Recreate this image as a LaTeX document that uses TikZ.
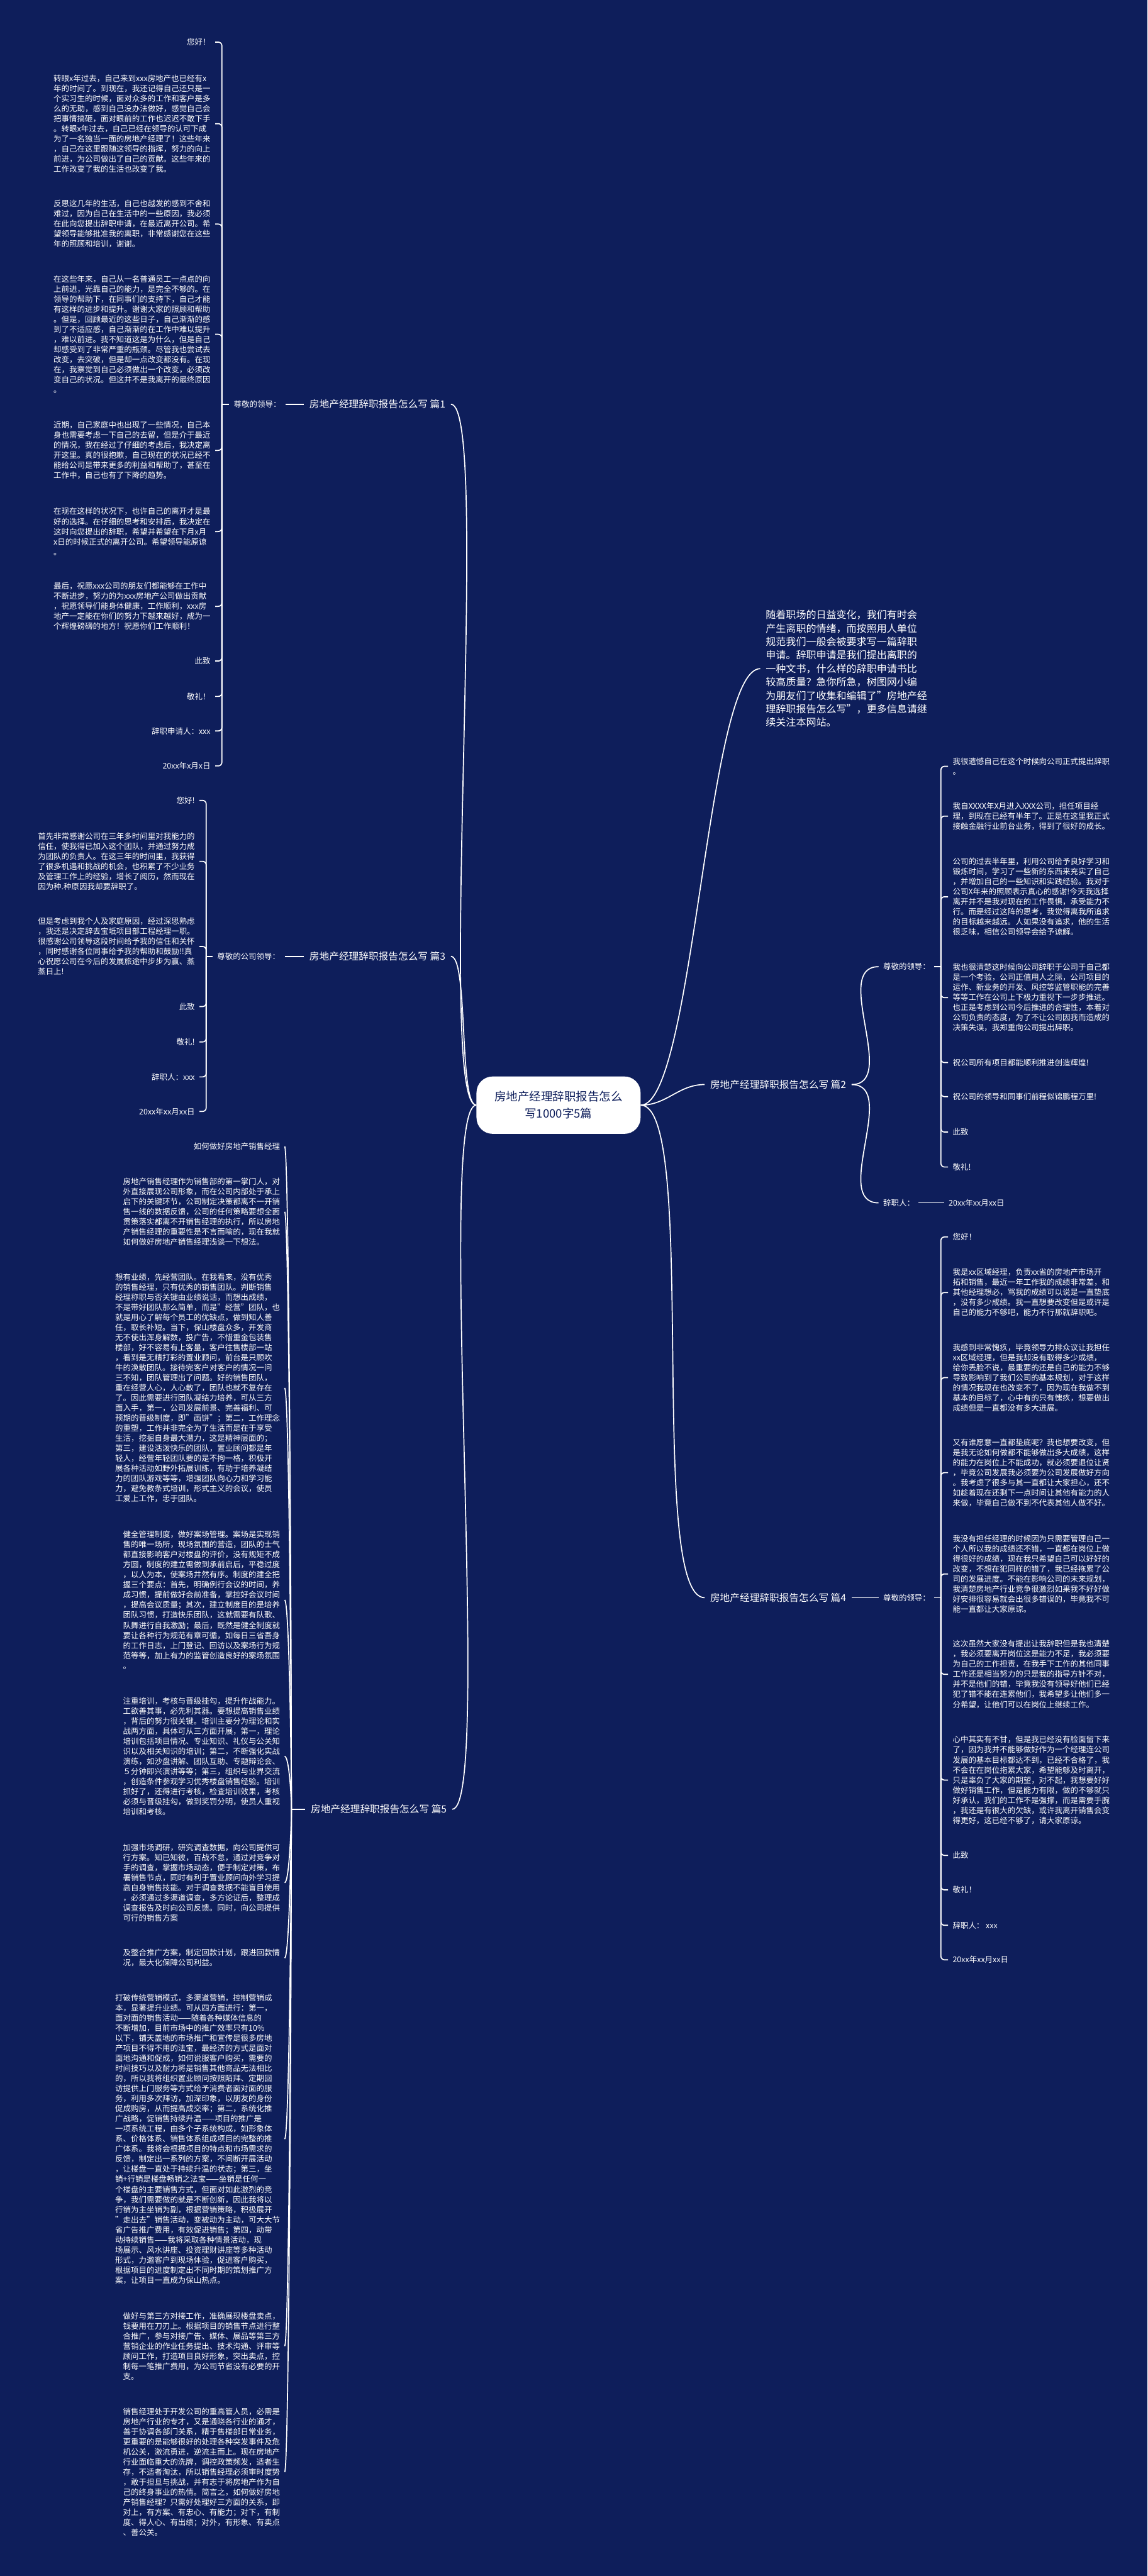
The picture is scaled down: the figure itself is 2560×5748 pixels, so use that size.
\documentclass[tikz,border=0pt]{standalone}
\usepackage{fontspec}
\setmainfont{Noto Sans CJK SC}
\usetikzlibrary{positioning,calc}

\definecolor{bgnavy}{HTML}{0E1E5B}

\newcommand\leaffont{\fontsize{8.75}{11.25}\selectfont}
\newcommand\introfont{\fontsize{11.25}{15}\selectfont}
\newcommand\labelfont{\fontsize{11}{14}\selectfont}
\newcommand\rootfont{\fontsize{13}{19}\selectfont}

\tikzset{
  leaf/.style={text=white, font=\leaffont, inner sep=0pt, align=left},
  leafL/.style={leaf, anchor=east},
  leafR/.style={leaf, anchor=west},
  branch/.style={text=white, font=\labelfont, inner sep=0pt},
  rootbox/.style={fill=white, text=bgnavy, font=\rootfont, align=center,
    rounded corners=18pt, minimum width=183pt, minimum height=64pt},
  link/.style={draw=white, line width=1.2pt},
  hook/.style={link, rounded corners=4pt},
}

\begin{document}
\begin{tikzpicture}[x=0.5pt, y=-0.5pt]
\useasboundingbox (0,0) rectangle (2560,5748);
\fill[bgnavy] (0,0) rectangle (2560,5748);

% 中心
\node[rootbox] (root) at (1246,2466) {房地产经理辞职报告怎么\\写1000字5篇};

% 分支
\node[branch, anchor=west] (p1) at (690,902) {房地产经理辞职报告怎么写 篇1};
\node[branch, anchor=west] (p3) at (690,2134) {房地产经理辞职报告怎么写 篇3};
\node[branch, anchor=west] (p5) at (693,4037) {房地产经理辞职报告怎么写 篇5};
\node[branch, anchor=west] (p2) at (1584,2420) {房地产经理辞职报告怎么写 篇2};
\node[branch, anchor=west] (p4) at (1584,3565) {房地产经理辞职报告怎么写 篇4};
\node[leafR, font=\introfont] (intro) at (1708,1492) {随着职场的日益变化，我们有时会\\产生离职的情绪，而按照用人单位\\规范我们一般会被要求写一篇辞职\\申请。辞职申请是我们提出离职的\\一种文书，什么样的辞职申请书比\\较高质量？急你所急，树图网小编\\为朋友们了收集和编辑了"房地产经\\理辞职报告怎么写"，更多信息请继\\续关注本网站。};

\draw[link] (root.west) to[out=180,in=0,looseness=0.15] ([xshift=6pt]p1.east);
\draw[link] (root.west) to[out=180,in=0,looseness=0.3] ([xshift=6pt]p3.east);
\draw[link] (root.west) to[out=180,in=0,looseness=0.15] ([xshift=6pt]p5.east);
\draw[link] (root.east) to[out=0,in=180,looseness=0.3] ([xshift=-6pt]intro.west);
\draw[link] (root.east) to[out=0,in=180] ([xshift=-6pt]p2.west);
\draw[link] (root.east) to[out=0,in=180,looseness=0.3] ([xshift=-6pt]p4.west);

% 篇1
\node[leafL] (c1) at (627,902) {尊敬的领导：};
\coordinate (j1) at (495,902);
\node[leafL] (n1a) at (470,94) {您好！};
\node[leafL] (n1b) at (470,276) {转眼x年过去，自己来到xxx房地产也已经有x\\年的时间了。到现在，我还记得自己还只是一\\个实习生的时候，面对众多的工作和客户是多\\么的无助，感到自己没办法做好，感觉自己会\\把事情搞砸，面对眼前的工作也迟迟不敢下手\\。转眼x年过去，自己已经在领导的认可下成\\为了一名独当一面的房地产经理了！这些年来\\，自己在这里跟随这领导的指挥，努力的向上\\前进，为公司做出了自己的贡献。这些年来的\\工作改变了我的生活也改变了我。};
\node[leafL] (n1c) at (470,500) {反思这几年的生活，自己也越发的感到不舍和\\难过，因为自己在生活中的一些原因，我必须\\在此向您提出辞职申请，在最近离开公司。希\\望领导能够批准我的离职，非常感谢您在这些\\年的照顾和培训，谢谢。};
\node[leafL] (n1d) at (470,746) {在这些年来，自己从一名普通员工一点点的向\\上前进，光靠自己的能力，是完全不够的。在\\领导的帮助下，在同事们的支持下，自己才能\\有这样的进步和提升。谢谢大家的照顾和帮助\\。但是，回顾最近的这些日子，自己渐渐的感\\到了不适应感，自己渐渐的在工作中难以提升\\，难以前进。我不知道这是为什么，但是自己\\却感受到了非常严重的瓶颈。尽管我也尝试去\\改变，去突破，但是却一点改变都没有。在现\\在，我察觉到自己必须做出一个改变，必须改\\变自己的状况。但这并不是我离开的最终原因\\。};
\node[leafL] (n1e) at (470,1005) {近期，自己家庭中也出现了一些情况，自己本\\身也需要考虑一下自己的去留，但是介于最近\\的情况，我在经过了仔细的考虑后，我决定离\\开这里。真的很抱歉，自己现在的状况已经不\\能给公司是带来更多的利益和帮助了，甚至在\\工作中，自己也有了下降的趋势。};
\node[leafL] (n1f) at (470,1186) {在现在这样的状况下，也许自己的离开才是最\\好的选择。在仔细的思考和安排后，我决定在\\这时向您提出的辞职，希望并希望在下月x月\\x日的时候正式的离开公司。希望领导能原谅\\。};
\node[leafL] (n1g) at (470,1353) {最后，祝愿xxx公司的朋友们都能够在工作中\\不断进步，努力的为xxx房地产公司做出贡献\\，祝愿领导们能身体健康，工作顺利，xxx房\\地产一定能在你们的努力下越来越好，成为一\\个辉煌磅礴的地方！祝愿你们工作顺利！};
\node[leafL] (n1h) at (470,1475) {此致};
\node[leafL] (n1i) at (470,1554) {敬礼！};
\node[leafL] (n1j) at (470,1631) {辞职申请人：xxx};
\node[leafL] (n1k) at (470,1709) {20xx年x月x日};
\foreach \n in {n1a,n1b,n1c,n1d,n1e,n1f,n1g,n1h,n1i,n1j,n1k}
  \draw[hook] ([xshift=5pt]\n.east) -| (j1);
\draw[link] (j1) -- ([xshift=-5pt]c1.west);
\draw[link] ([xshift=5pt]c1.east) -- ([xshift=-6pt]p1.west);

% 篇3
\node[leafL] (c3) at (625,2134) {尊敬的公司领导：};
\coordinate (j3) at (460,2134);
\node[leafL] (n3a) at (435,1786) {您好!};
\node[leafL] (n3b) at (435,1922) {首先非常感谢公司在三年多时间里对我能力的\\信任，使我得已加入这个团队，并通过努力成\\为团队的负责人。在这三年的时间里，我获得\\了很多机遇和挑战的机会，也积累了不少业务\\及管理工作上的经验，增长了阅历，然而现在\\因为种.种原因我却要辞职了。};
\node[leafL] (n3c) at (435,2112) {但是考虑到我个人及家庭原因，经过深思熟虑\\，我还是决定辞去宝坻项目部工程经理一职。\\很感谢公司领导这段时间给予我的信任和关怀\\，同时感谢各位同事给予我的帮助和鼓励!!真\\心祝愿公司在今后的发展旅途中步步为赢、蒸\\蒸日上!};
\node[leafL] (n3d) at (435,2246) {此致};
\node[leafL] (n3e) at (435,2325) {敬礼!};
\node[leafL] (n3f) at (435,2403) {辞职人：xxx};
\node[leafL] (n3g) at (435,2480) {20xx年xx月xx日};
\foreach \n in {n3a,n3b,n3c,n3d,n3e,n3f,n3g}
  \draw[hook] ([xshift=5pt]\n.east) -| (j3);
\draw[link] (j3) -- ([xshift=-5pt]c3.west);
\draw[link] ([xshift=5pt]c3.east) -- ([xshift=-6pt]p3.west);

% 篇5
\coordinate (j5) at (650,4037);
\node[leafL] (n5a) at (625,2558) {如何做好房地产销售经理};
\node[leafL] (n5b) at (625,2704) {房地产销售经理作为销售部的第一掌门人，对\\外直接展现公司形象，而在公司内部处于承上\\启下的关键环节，公司制定决策都离不一开销\\售一线的数据反馈，公司的任何策略要想全面\\贯策落实都离不开销售经理的执行，所以房地\\产销售经理的重要性是不言而喻的，现在我就\\如何做好房地产销售经理浅谈一下想法。};
\node[leafL] (n5c) at (625,3097) {想有业绩，先经营团队。在我看来，没有优秀\\的销售经理，只有优秀的销售团队。判断销售\\经理称职与否关键由业绩说话，而想出成绩，\\不是带好团队那么简单，而是"经营"团队，也\\就是用心了解每个员工的优缺点，做到知人善\\任，取长补短。当下，保山楼盘众多，开发商\\无不使出浑身解数，投广告，不惜重金包装售\\楼部，好不容易有上客量，客户往售楼部一站\\，看到是无精打彩的置业顾问，前台是只顾吹\\牛的涣散团队。接待完客户对客户的情况一问\\三不知，团队管理出了问题。好的销售团队，\\重在经营人心，人心散了，团队也就不复存在\\了。因此需要进行团队凝结力培养，可从三方\\面入手，第一，公司发展前景、完善福利、可\\预期的晋级制度，即"画饼"；第二，工作理念\\的重塑，工作并非完全为了生活而是在于享受\\生活，挖掘自身最大潜力，这是精神层面的；\\第三，建设活泼快乐的团队，置业顾问都是年\\轻人，经营年轻团队要的是不拘一格，积极开\\展各种活动如野外拓展训练，有助于培养凝结\\力的团队游戏等等，增强团队向心力和学习能\\力，避免教条式培训，形式主义的会议，使员\\工爱上工作，忠于团队。};
\node[leafL] (n5d) at (625,3570) {健全管理制度，做好案场管理。案场是实现销\\售的唯一场所，现场氛围的营造，团队的士气\\都直接影响客户对楼盘的评价，没有规矩不成\\方圆，制度的建立需做到承前启后，平稳过度\\，以人为本，使案场井然有序。制度的建全把\\握三个要点：首先，明确例行会议的时间，养\\成习惯，提前做好会前准备，掌控好会议时间\\，提高会议质量；其次，建立制度目的是培养\\团队习惯，打造快乐团队，这就需要有队歌、\\队舞进行自我激励；最后，既然是健全制度就\\要让各种行为规范有章可循，如每日三省吾身\\的工作日志，上门登记、回访以及案场行为规\\范等等，加上有力的监管创造良好的案场氛围\\。};
\node[leafL] (n5e) at (625,3919) {注重培训，考核与晋级挂勾，提升作战能力。\\工欲善其事，必先利其器。要想提高销售业绩\\，背后的努力很关键。培训主要分为理论和实\\战两方面，具体可从三方面开展，第一，理论\\培训包括项目情况、专业知识、礼仪与公关知\\识以及相关知识的培训；第二，不断强化实战\\演练，如沙盘讲解、团队互助、专题辩论会、\\５分钟即兴演讲等等；第三，组织与业界交流\\，创造条件参观学习优秀楼盘销售经验。培训\\抓好了，还得进行考核，检查培训效果，考核\\必须与晋级挂勾，做到奖罚分明，使员人重视\\培训和考核。};
\node[leafL] (n5f) at (625,4201) {加强市场调研，研究调查数据，向公司提供可\\行方案。知已知彼，百战不怠，通过对竞争对\\手的调查，掌握市场动态，便于制定对策，布\\署销售节点，同时有利于置业顾问向外学习提\\高自身销售技能。对于调查数据不能盲目使用\\，必须通过多渠道调查，多方论证后，整理成\\调查报告及时向公司反馈。同时，向公司提供\\可行的销售方案};
\node[leafL] (n5g) at (625,4369) {及整合推广方案，制定回款计划，跟进回款情\\况，最大化保障公司利益。};
\node[leafL] (n5h) at (625,4773) {打破传统营销模式，多渠道营销，控制营销成\\本，显著提升业绩。可从四方面进行：第一，\\面对面的销售活动——随着各种媒体信息的\\不断增加，目前市场中的推广效率只有10\%\\以下，铺天盖地的市场推广和宣传是很多房地\\产项目不得不用的法宝，最经济的方式是面对\\面地沟通和促成，如何说服客户购买，需要的\\时间技巧以及耐力将是销售其他商品无法相比\\的，所以我将组织置业顾问按照陌拜、定期回\\访提供上门服务等方式给予消费者面对面的服\\务，利用多次拜访，加深印象，以朋友的身份\\促成购房，从而提高成交率；第二，系统化推\\广战略，促销售持续升温——项目的推广是\\一项系统工程，由多个子系统构成，如形象体\\系、价格体系、销售体系组成项目的完整的推\\广体系。我将会根据项目的特点和市场需求的\\反馈，制定出一系列的方案，不间断开展活动\\，让楼盘一直处于持续升温的状态；第三，坐\\销+行销是楼盘畅销之法宝——坐销是任何一\\个楼盘的主要销售方式，但面对如此激烈的竞\\争，我们需要做的就是不断创新，因此我将以\\行销为主坐销为副，根据营销策略，积极展开\\"走出去"销售活动，变被动为主动，可大大节\\省广告推广费用，有效促进销售；第四，动带\\动持续销售——我将采取各种情景活动，现\\场展示、风水讲座、投资理财讲座等多种活动\\形式，力邀客户到现场体验，促进客户购买，\\根据项目的进度制定出不同时期的策划推广方\\案，让项目一直成为保山热点。};
\node[leafL] (n5i) at (625,5235) {做好与第三方对接工作，准确展现楼盘卖点，\\钱要用在刀刃上。根据项目的销售节点进行整\\合推广，参与对接广告、媒体、展品等第三方\\营销企业的作业任务提出、技术沟通、评审等\\顾问工作，打造项目良好形象，突出卖点，控\\制每一笔推广费用，为公司节省没有必要的开\\支。};
\node[leafL] (n5j) at (625,5516) {销售经理处于开发公司的重高管人员，必需是\\房地产行业的专才，又是通晓各行业的通才，\\善于协调各部门关系，精于售楼部日常业务，\\更重要的是能够很好的处理各种突发事件及危\\机公关，激流勇进，逆流主而上。现在房地产\\行业面临重大的洗牌，调控政策频发，适者生\\存，不适者淘汰，所以销售经理必须审时度势\\，敢于担旦与挑战，并有志于将房地产作为自\\己的终身事业的热情。简言之，如何做好房地\\产销售经理？只需好处理好三方面的关系，即\\对上，有方案、有忠心、有能力；对下，有制\\度、得人心、有出绩；对外，有形象、有卖点\\、善公关。};
\foreach \n in {n5a,n5b,n5c,n5d,n5e}
  \draw[link] ([xshift=5pt]\n.east) to[out=0,in=90,out distance=5pt,in looseness=0.6] (j5);
\foreach \n in {n5f,n5g,n5h,n5i,n5j}
  \draw[link] ([xshift=5pt]\n.east) to[out=0,in=270,out distance=5pt,in looseness=0.6] (j5);
\draw[link] (j5) -- ([xshift=-6pt]p5.west);

% 篇2
\node[leafR] (c2a) at (1970,2157) {尊敬的领导：};
\node[leafR] (c2b) at (1970,2684) {辞职人：};
\coordinate (j2) at (2099,2157);
\node[leafR] (n2a) at (2125,1710) {我很遗憾自己在这个时候向公司正式提出辞职\\。};
\node[leafR] (n2b) at (2125,1821) {我自XXXX年X月进入XXX公司，担任项目经\\理，到现在已经有半年了。正是在这里我正式\\接触金融行业前台业务，得到了很好的成长。};
\node[leafR] (n2c) at (2125,2001) {公司的过去半年里，利用公司给予良好学习和\\锻炼时间，学习了一些新的东西来充实了自己\\，并增加自己的一些知识和实践经验。我对于\\公司X年来的照顾表示真心的感谢!今天我选择\\离开并不是我对现在的工作畏惧，承受能力不\\行。而是经过这阵的思考，我觉得离我所追求\\的目标越来越远。人如果没有追求，他的生活\\很乏味，相信公司领导会给予谅解。};
\node[leafR] (n2d) at (2125,2226) {我也很清楚这时候向公司辞职于公司于自己都\\是一个考验，公司正值用人之际，公司项目的\\运作、新业务的开发、风控等监管职能的完善\\等等工作在公司上下极力重视下一步步推进。\\也正是考虑到公司今后推进的合理性，本着对\\公司负责的态度，为了不让公司因我而造成的\\决策失误，我郑重向公司提出辞职。};
\node[leafR] (n2e) at (2125,2371) {祝公司所有项目都能顺利推进创造辉煌!};
\node[leafR] (n2f) at (2125,2447) {祝公司的领导和同事们前程似锦鹏程万里!};
\node[leafR] (n2g) at (2125,2526) {此致};
\node[leafR] (n2h) at (2125,2604) {敬礼!};
\node[leafR] (n2i) at (2116,2684) {20xx年xx月xx日};
\foreach \n in {n2a,n2b,n2c,n2d,n2e,n2f,n2g,n2h}
  \draw[hook] ([xshift=-5pt]\n.west) -| (j2);
\draw[link] (j2) -- ([xshift=4pt]c2a.east);
\draw[link] ([xshift=4pt]c2b.east) -- ([xshift=-5pt]n2i.west);
\draw[link] ([xshift=6pt]p2.east) to[out=0,in=180] ([xshift=-5pt]c2a.west);
\draw[link] ([xshift=6pt]p2.east) to[out=0,in=180] ([xshift=-5pt]c2b.west);

% 篇4
\node[leafR] (c4) at (1970,3565) {尊敬的领导：};
\coordinate (j4) at (2099,3565);
\node[leafR] (n4a) at (2125,2760) {您好！};
\node[leafR] (n4b) at (2125,2884) {我是xx区域经理，负责xx省的房地产市场开\\拓和销售，最近一年工作我的成绩非常差，和\\其他经理想必，骂我的成绩可以说是一直垫底\\，没有多少成绩。我一直想要改变但是或许是\\自己的能力不够吧，能力不行那就辞职吧。};
\node[leafR] (n4c) at (2125,3074) {我感到非常愧疚，毕竟领导力排众议让我担任\\xx区域经理，但是我却没有取得多少成绩，\\给你丢脸不说，最重要的还是自己的能力不够\\导致影响到了我们公司的基本规划，对于这样\\的情况我现在也改变不了，因为现在我做不到\\基本的目标了，心中有的只有愧疚，想要做出\\成绩但是一直都没有多大进展。};
\node[leafR] (n4d) at (2125,3286) {又有谁愿意一直都垫底呢？我也想要改变，但\\是我无论如何做都不能够做出多大成绩，这样\\的能力在岗位上不能成功，就必须要退位让贤\\，毕竟公司发展我必须要为公司发展做好方向\\。我考虑了很多与其一直都让大家担心，还不\\如趁着现在还剩下一点时间让其他有能力的人\\来做，毕竟自己做不到不代表其他人做不好。};
\node[leafR] (n4e) at (2125,3512) {我没有担任经理的时候因为只需要管理自己一\\个人所以我的成绩还不错，一直都在岗位上做\\得很好的成绩，现在我只希望自己可以好好的\\改变，不想在犯同样的错了，我已经拖累了公\\司的发展进度。不能在影响公司的未来规划，\\我清楚房地产行业竞争很激烈如果我不好好做\\好安排很容易就会出很多错误的，毕竟我不可\\能一直都让大家原谅。};
\node[leafR] (n4f) at (2125,3736) {这次虽然大家没有提出让我辞职但是我也清楚\\，我必须要离开岗位这是能力不足，我必须要\\为自己的工作担责，在我手下工作的其他同事\\工作还是相当努力的只是我的指导方针不对，\\并不是他们的错，毕竟我没有领导好他们已经\\犯了错不能在连累他们，我希望多让他们多一\\分希望，让他们可以在岗位上继续工作。};
\node[leafR] (n4g) at (2125,3972) {心中其实有不甘，但是我已经没有脸面留下来\\了，因为我并不能够做好作为一个经理连公司\\发展的基本目标都达不到，已经不合格了，我\\不会在在岗位拖累大家，希望能够及时离开，\\只是辜负了大家的期望，对不起，我想要好好\\做好销售工作，但是能力有限，做的不够就只\\好承认，我们的工作不是强撑，而是需要手腕\\，我还是有很大的欠缺，或许我离开销售会变\\得更好，这已经不够了，请大家原谅。};
\node[leafR] (n4h) at (2125,4140) {此致};
\node[leafR] (n4i) at (2125,4217) {敬礼！};
\node[leafR] (n4j) at (2125,4296) {辞职人： xxx};
\node[leafR] (n4k) at (2125,4373) {20xx年xx月xx日};
\foreach \n in {n4a,n4b,n4c,n4d,n4e,n4f,n4g,n4h,n4i,n4j,n4k}
  \draw[hook] ([xshift=-5pt]\n.west) -| (j4);
\draw[link] (j4) -- ([xshift=4pt]c4.east);
\draw[link] ([xshift=6pt]p4.east) -- ([xshift=-5pt]c4.west);

\end{tikzpicture}
\end{document}
